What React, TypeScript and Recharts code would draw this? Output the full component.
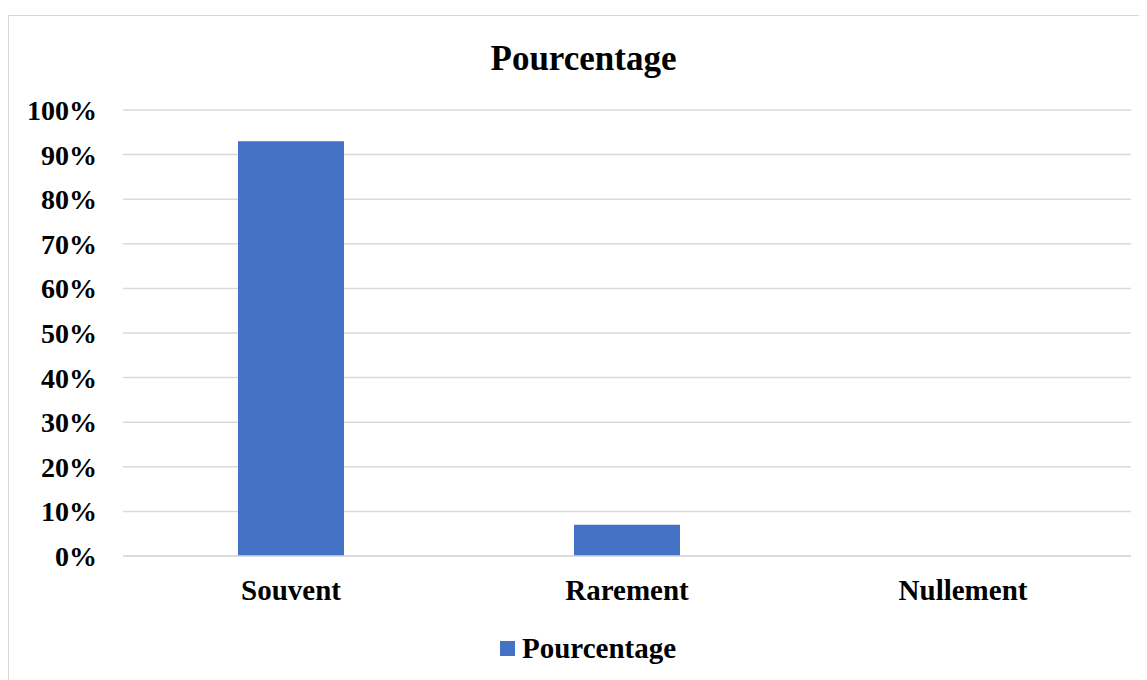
import { BarChart, Bar, XAxis, YAxis, CartesianGrid, Legend } from 'recharts';

const categories = ['Souvent', 'Rarement', 'Nullement'];
const pourcentage = [0.93, 0.07, 0];
const yTicks = [0, 0.1, 0.2, 0.3, 0.4, 0.5, 0.6, 0.7, 0.8, 0.9, 1];

const data = categories.map((name, i) => ({ name, Pourcentage: pourcentage[i] }));

const FONT = '"Liberation Serif", "Times New Roman", serif';
const BLUE = '#4472C4';
const GRID = '#d9d9d9';

function LegendContent() {
  return (
    <div
      style={{
        height: 36,
        display: 'flex',
        alignItems: 'center',
        justifyContent: 'center',
        paddingLeft: 36,
        fontFamily: FONT,
        fontWeight: 'bold',
        fontSize: 29,
        color: '#000',
      }}
    >
      <span style={{ display: 'inline-block', width: 15, height: 15, background: BLUE, marginRight: 7 }} />
      <span style={{ fontFamily: FONT, fontWeight: 'bold', fontSize: 29 }}>Pourcentage</span>
    </div>
  );
}

export default function App() {
  return (
    <div
      style={{
        marginTop: 7,
        width: 1137,
        height: 668,
        border: `1px solid ${GRID}`,
        position: 'relative',
        background: '#fff',
      }}
    >
      <div
        style={{
          position: 'absolute',
          top: 23,
          left: 6,
          width: '100%',
          textAlign: 'center',
          fontFamily: FONT,
          fontWeight: 'bold',
          fontSize: 35,
          color: '#000',
        }}
      >
        Pourcentage
      </div>
      <BarChart
        width={1137}
        height={668}
        data={data}
        margin={{ top: 94, right: 15, left: 0, bottom: 18 }}
        barCategoryGap={115}
      >
        <CartesianGrid stroke={GRID} strokeWidth={1.5} vertical={false} />
        <XAxis
          dataKey="name"
          height={74}
          axisLine={{ stroke: GRID, strokeWidth: 1.5 }}
          tickLine={false}
          tickMargin={17}
          tick={{ fill: '#000', fontSize: 29, fontWeight: 'bold', fontFamily: FONT }}
        />
        <YAxis
          width={114}
          domain={[0, 1]}
          ticks={yTicks}
          interval={0}
          axisLine={false}
          tickLine={false}
          tickSize={6}
          tickMargin={20}
          tickFormatter={(v: number) => `${Math.round(v * 100)}%`}
          tick={{ fill: '#000', fontSize: 28, fontWeight: 'bold', fontFamily: FONT }}
        />
        <Legend verticalAlign="bottom" content={() => <LegendContent />} />
        <Bar dataKey="Pourcentage" fill={BLUE} isAnimationActive={false} />
      </BarChart>
    </div>
  );
}
